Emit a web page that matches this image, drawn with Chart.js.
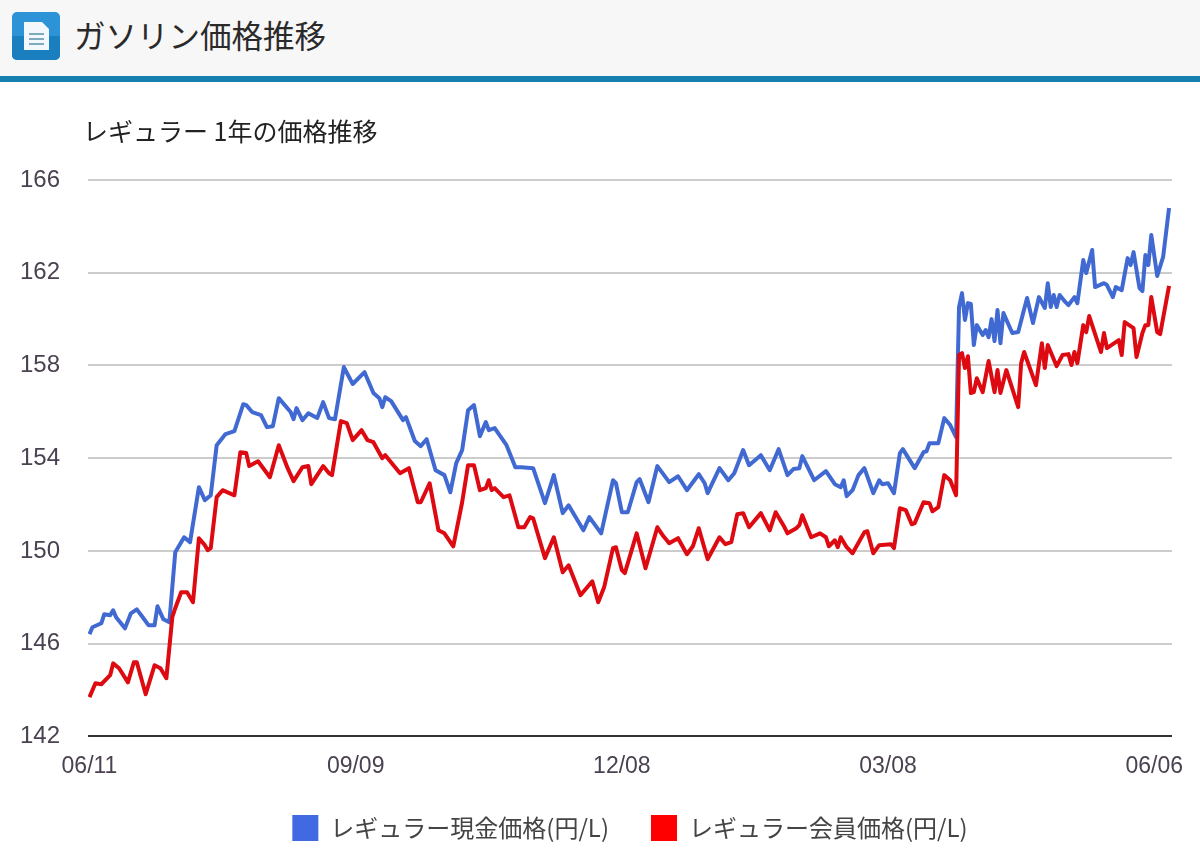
<!DOCTYPE html>
<html lang="ja">
<head>
<meta charset="utf-8">
<title>ガソリン価格推移</title>
<script src="https://cdn.jsdelivr.net/npm/chart.js@4"></script>
<style>
  html, body { margin: 0; padding: 0; background: #fff; }
  body { width: 1200px; height: 859px; position: relative; overflow: hidden; }
  #header {
    position: absolute; left: 0; top: 0; width: 1200px; height: 76px;
    background: #f7f7f7; border-bottom: 6px solid #157fb0;
  }
  #header svg { position: absolute; left: 12px; top: 12px; }
  #header h1 {
    position: absolute; left: 74px; top: 12px; margin: 0;
    font: 400 31.5px/44px "Noto Sans CJK JP", sans-serif; color: #2a2a2a;
  }
  #chartTitle {
    position: absolute; left: 83px; top: 112px;
    font: 400 25px/36px "Noto Sans CJK JP", sans-serif; color: #222;
  }
  #canvasContainer { position: absolute; left: 0; top: 82px; width: 1200px; height: 777px; }
</style>
</head>
<body>
<div id="header">
  <svg width="48" height="48" viewBox="0 0 48 48">
    <rect width="48" height="48" rx="5" fill="#2b93d6"/>
    <path d="M0 24H48V43a5 5 0 0 1-5 5H5a5 5 0 0 1-5-5Z" fill="#1a7fbf"/>
    <path d="M12 10H30L37 17V38H12Z" fill="#f2f8fc"/>
    <path d="M17 22H32M17 27H32M17 32H32" stroke="#7fa9bf" stroke-width="2"/>
  </svg>
  <h1>ガソリン価格推移</h1>
</div>
<div id="canvasContainer"><canvas id="myCanvas" width="1200" height="777"></canvas></div>
<div id="chartTitle">レギュラー 1年の価格推移</div>
<script>
const seriesNames = ['レギュラー現金価格(円/L)', 'レギュラー会員価格(円/L)'];
const tickDays = [0, 90, 180, 270, 360];
const tickLabels = ['06/11', '09/09', '12/08', '03/08', '06/06'];

const cashDays = [0, 1, 4, 5, 7, 8, 9, 12, 14, 16, 18, 20, 22, 23, 25, 27, 29, 32, 34, 37, 39, 41, 43, 46, 49, 52, 53, 55, 58, 60, 62, 64, 68, 69, 70, 72, 74, 77, 79, 81, 83, 86, 89, 93, 96, 98, 99, 100, 102, 106, 107, 110, 112, 114, 117, 120, 122, 124, 126, 128, 130, 132, 134, 135, 137, 141, 144, 146, 150, 154, 157, 160, 162, 167, 169, 173, 177, 178, 180, 182, 185, 186, 189, 192, 196, 199, 202, 206, 208, 209, 213, 216, 218, 221, 223, 227, 230, 233, 236, 238, 240, 241, 245, 249, 252, 254, 255, 256, 258, 260, 262, 265, 267, 268, 270, 272, 274, 275, 279, 282, 283, 284, 287, 289, 291, 293, 294, 295, 296, 297, 298, 299, 300, 302, 303, 304, 305, 306, 307, 308, 309, 312, 314, 317, 319, 321, 323, 324, 325, 326, 327, 328, 330, 331, 333, 334, 336, 337, 339, 340, 343, 344, 346, 347, 349, 351, 352, 353, 355, 356, 357, 358, 359, 361, 363, 365];
const cashPrices = [146.41, 146.71, 146.88, 147.27, 147.23, 147.44, 147.14, 146.66, 147.31, 147.48, 147.14, 146.79, 146.79, 147.61, 147.05, 146.92, 149.94, 150.59, 150.38, 152.75, 152.19, 152.40, 154.56, 155.04, 155.17, 156.33, 156.29, 155.99, 155.86, 155.34, 155.38, 156.59, 155.99, 155.68, 156.16, 155.64, 155.94, 155.73, 156.42, 155.73, 155.68, 157.93, 157.20, 157.71, 156.81, 156.59, 156.20, 156.63, 156.46, 155.64, 155.77, 154.74, 154.52, 154.82, 153.48, 153.27, 152.53, 153.79, 154.35, 156.07, 156.29, 154.95, 155.56, 155.21, 155.30, 154.56, 153.61, 153.61, 153.57, 152.06, 153.27, 151.63, 151.97, 150.89, 151.46, 150.76, 153.05, 152.92, 151.67, 151.67, 152.97, 153.10, 152.10, 153.66, 152.97, 153.22, 152.62, 153.31, 152.92, 152.49, 153.57, 153.05, 153.35, 154.35, 153.70, 154.13, 153.48, 154.39, 153.27, 153.53, 153.57, 154.09, 153.05, 153.44, 152.88, 152.75, 153.05, 152.36, 152.62, 153.27, 153.57, 152.49, 153.05, 152.88, 152.92, 152.49, 154.22, 154.39, 153.57, 154.26, 154.30, 154.65, 154.65, 155.73, 155.43, 154.91, 160.52, 161.12, 159.96, 160.69, 160.65, 158.88, 159.74, 159.31, 159.53, 159.22, 160.00, 159.05, 160.39, 158.96, 160.26, 159.40, 159.44, 160.91, 159.83, 160.95, 160.48, 161.55, 160.52, 161.04, 160.52, 161.04, 160.73, 160.60, 160.95, 160.69, 162.55, 161.99, 162.98, 161.38, 161.55, 161.47, 160.95, 161.38, 161.25, 162.63, 162.33, 162.89, 161.34, 161.21, 162.76, 162.33, 163.63, 161.86, 162.68, 164.79];

const memberDays = [0, 2, 4, 7, 8, 10, 13, 15, 16, 19, 22, 24, 26, 28, 29, 31, 33, 35, 37, 39, 40, 41, 43, 45, 49, 51, 53, 54, 57, 61, 64, 67, 69, 72, 74, 75, 79, 81, 82, 85, 87, 89, 92, 94, 96, 99, 100, 105, 108, 111, 112, 115, 118, 120, 123, 126, 128, 130, 132, 134, 135, 136, 137, 140, 142, 145, 147, 149, 150, 154, 157, 160, 162, 166, 170, 172, 174, 177, 178, 180, 181, 185, 188, 192, 194, 196, 199, 202, 204, 206, 209, 213, 215, 217, 219, 221, 223, 227, 230, 232, 235, 236, 239, 240, 241, 244, 247, 249, 250, 252, 253, 254, 256, 258, 262, 263, 265, 267, 271, 272, 274, 276, 278, 279, 282, 284, 285, 287, 289, 291, 293, 294, 295, 296, 297, 298, 299, 300, 302, 304, 306, 307, 308, 310, 314, 315, 316, 320, 322, 323, 324, 327, 329, 331, 332, 333, 334, 336, 337, 338, 342, 343, 344, 348, 349, 350, 353, 354, 356, 357, 358, 359, 361, 362, 365];
const memberPrices = [143.69, 144.29, 144.25, 144.64, 145.15, 144.94, 144.33, 145.20, 145.20, 143.82, 145.07, 144.94, 144.51, 147.14, 147.53, 148.22, 148.22, 147.79, 150.55, 150.25, 150.03, 150.12, 152.32, 152.62, 152.40, 154.26, 154.22, 153.66, 153.87, 153.18, 154.56, 153.57, 153.01, 153.61, 153.66, 152.88, 153.66, 153.35, 153.27, 155.60, 155.51, 154.78, 155.21, 154.78, 154.69, 154.00, 154.13, 153.35, 153.57, 152.10, 152.10, 152.92, 150.89, 150.76, 150.20, 152.10, 153.70, 153.70, 152.62, 152.71, 153.05, 152.62, 152.71, 152.32, 152.40, 151.02, 151.02, 151.46, 151.41, 149.69, 150.59, 149.08, 149.38, 148.09, 148.69, 147.79, 148.43, 150.12, 150.16, 149.17, 149.04, 150.76, 149.25, 151.02, 150.64, 150.33, 150.55, 149.86, 150.20, 150.98, 149.64, 150.59, 150.29, 150.38, 151.58, 151.63, 151.02, 151.63, 150.89, 151.67, 151.02, 150.76, 150.98, 151.11, 151.54, 150.59, 150.76, 150.59, 150.20, 150.46, 150.16, 150.59, 150.16, 149.90, 150.81, 150.85, 149.90, 150.25, 150.29, 150.12, 151.84, 151.76, 151.15, 151.20, 152.10, 152.06, 151.71, 151.89, 153.27, 153.05, 152.40, 158.45, 158.53, 157.89, 158.40, 156.81, 156.85, 157.45, 156.85, 158.19, 156.85, 157.80, 156.81, 157.80, 156.20, 158.10, 158.58, 157.15, 158.96, 157.89, 158.88, 157.97, 158.45, 158.49, 158.02, 158.58, 158.10, 159.74, 159.44, 160.13, 158.58, 159.40, 158.75, 159.09, 158.45, 159.87, 159.61, 158.36, 159.40, 159.74, 159.74, 160.95, 159.44, 159.35, 161.43];

// pair the day and price lists into the {x, y} points a line dataset takes
const toPoints = (days, prices) => days.map((day, i) => ({ x: day, y: prices[i] }));

const ctx = document.getElementById('myCanvas').getContext('2d');
const myLineChart = new Chart(ctx, {
  type: 'line',
  data: {
    datasets: [{
      label: seriesNames[0],
      data: toPoints(cashDays, cashPrices),
      borderColor: '#4169d2',
      backgroundColor: '#4169e1',
      borderWidth: 4,
      borderJoinStyle: 'round',
      pointRadius: 0,
      tension: 0,
      order: 2
    }, {
      label: seriesNames[1],
      data: toPoints(memberDays, memberPrices),
      borderColor: '#de0a12',
      backgroundColor: '#ff0000',
      borderWidth: 4,
      borderJoinStyle: 'round',
      pointRadius: 0,
      tension: 0,
      order: 1
    }]
  },
  options: {
    responsive: false,
    animation: false,
    layout: { padding: { top: 98, right: 28, bottom: 8 } },
    plugins: {
      tooltip: { enabled: false },
      title: { display: false },
      legend: {
        position: 'bottom',
        fullSize: false,
        labels: {
          boxWidth: 26,
          boxHeight: 26,
          padding: 42,
          color: '#444',
          font: { family: '"Noto Sans CJK JP", sans-serif', size: 24 },
          sort: (a, b) => a.datasetIndex - b.datasetIndex,
          generateLabels(chart) {
            return Chart.defaults.plugins.legend.labels.generateLabels(chart)
              .map(item => ({ ...item, lineWidth: 0 }));
          }
        }
      }
    },
    scales: {
      x: {
        type: 'linear',
        min: -0.5,
        max: 366,
        afterBuildTicks(scale) {
          scale.ticks = tickDays.map(day => ({ value: day }));
        },
        // the legend's padding is large, let the axis run into it
        afterFit(scale) { scale.height -= 15; },
        grid: { display: false },
        border: { display: false },
        ticks: {
          maxRotation: 0,
          padding: 8,
          color: '#4a4250',
          font: { family: '"Liberation Sans", sans-serif', size: 23 },
          callback: (value, index) => tickLabels[index]
        }
      },
      y: {
        min: 142,
        max: 166,
        afterFit(scale) { scale.width = 88; },
        grid: {
          drawTicks: false,
          lineWidth: 2,
          color: c => (c.tick.value === 142 ? '#333' : '#ccc')
        },
        border: { display: false },
        ticks: {
          stepSize: 4,
          padding: 28,
          color: '#4a4250',
          font: { family: '"Liberation Sans", sans-serif', size: 24 }
        }
      }
    }
  }
});
</script>
</body>
</html>
